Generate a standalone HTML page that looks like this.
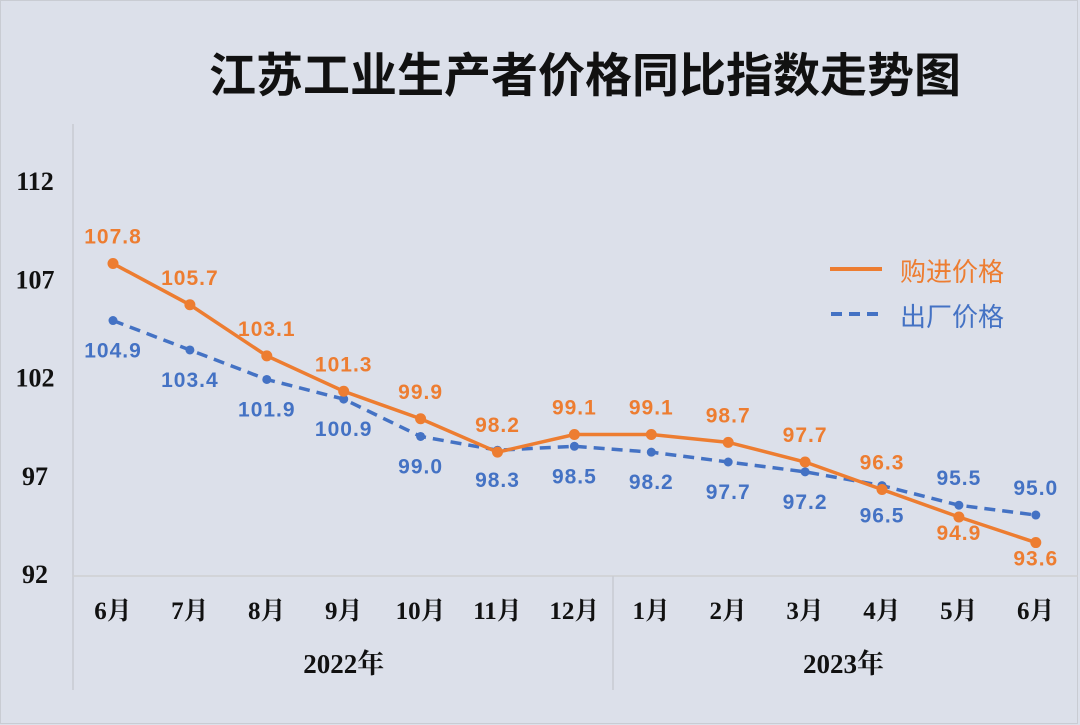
<!DOCTYPE html>
<html><head><meta charset="utf-8">
<style>
html,body{margin:0;padding:0;background:#dce0ea;}
svg{display:block;}
</style></head>
<body>
<svg id="chart" width="1080" height="725" xmlns="http://www.w3.org/2000/svg">
<rect x="0" y="0" width="1080" height="725" fill="#dce0ea"/>
<rect x="0.5" y="0.5" width="1077" height="723" fill="none" stroke="#c9ccd3" stroke-width="1"/>
<text x="585" y="92" text-anchor="middle" font-family="'Liberation Sans','Noto Sans CJK SC',sans-serif" font-size="47" font-weight="bold" fill="#111">江苏工业生产者价格同比指数走势图</text>
<g id="axes"></g>
<g id="series"></g>
<g>
  <line x1="830" y1="269" x2="882" y2="269" stroke="#ed7d31" stroke-width="4"/>
  <text x="900" y="281" font-family="'Liberation Sans','Noto Sans CJK SC',sans-serif" font-size="26" fill="#ed7d31">购进价格</text>
  <line x1="831" y1="314" x2="882" y2="314" stroke="#4472c4" stroke-width="4" stroke-dasharray="11,7"/>
  <text x="900" y="326" font-family="'Liberation Sans','Noto Sans CJK SC',sans-serif" font-size="26" fill="#4472c4">出厂价格</text>
</g>
</svg>
<script>
const categories = ["6月","7月","8月","9月","10月","11月","12月","1月","2月","3月","4月","5月","6月"];
const years = ["2022年","2023年"];
const purchase = [107.8,105.7,103.1,101.3,99.9,98.2,99.1,99.1,98.7,97.7,96.3,94.9,93.6];
const factory = [104.9,103.4,101.9,100.9,99.0,98.3,98.5,98.2,97.7,97.2,96.5,95.5,95.0];
const purchaseLabelSide = ["up","up","up","up","up","up","up","up","up","up","up","down","down"];
const factoryLabelSide = ["down","down","down","down","down","down","down","down","down","down","down","up","up"];
const yTicks = [92,97,102,107,112];

const NS="http://www.w3.org/2000/svg";
const X0=113, DX=76.9;
function xPos(i){return X0+i*DX;}
function yPos(v){return 574-(v-92)*19.65;}
function mk(tag,attrs,parent,text){const e=document.createElementNS(NS,tag);for(const k in attrs)e.setAttribute(k,attrs[k]);if(text!==undefined)e.textContent=text;parent.appendChild(e);return e;}
const axes=document.getElementById('axes'), series=document.getElementById('series');
const serif="'Liberation Serif','Noto Serif CJK SC',serif";
const sans="'Liberation Sans','Noto Sans CJK SC',sans-serif";

let e=mk('line',{x1:73,y1:124,x2:73,y2:690,stroke:'#c8cbd2','stroke-width':1.5},axes);


e=mk('line',{x1:73,y1:576,x2:1078,y2:576,stroke:'#cfcfd2','stroke-width':1.5},axes);


e=mk('line',{x1:613,y1:576,x2:613,y2:690,stroke:'#c8cbd2','stroke-width':1.5},axes);



yTicks.forEach(t=>{
  const el=mk('text',{x:35,y:yPos(t)+9,'text-anchor':'middle','font-family':serif,'font-size':26,'font-weight':'bold',fill:'#111'},axes,String(t));
  
  
});
categories.forEach((c,i)=>{
  const el=mk('text',{x:xPos(i),y:619,'text-anchor':'middle','font-family':serif,'font-size':25,'font-weight':'bold',fill:'#111'},axes,c);
  
  
});
[[0,6],[7,12]].forEach((r,k)=>{
  const el=mk('text',{x:(xPos(r[0])+xPos(r[1]))/2,y:673,'text-anchor':'middle','font-family':serif,'font-size':27,'font-weight':'bold',fill:'#111'},axes,years[k]);
  
  
});

function draw(vals,sides,color,dash,name){
  const pts=vals.map((v,i)=>xPos(i)+','+yPos(v)).join(' ');
  const attrs={points:pts,fill:'none',stroke:color,'stroke-width':3.5};
  if(dash)attrs['stroke-dasharray']='11,7';
  const pl=mk('polyline',attrs,series);
  
  
  vals.forEach((v,i)=>{
    const c=mk('circle',{cx:xPos(i),cy:yPos(v),r:dash?4.5:5.5,fill:color},series);
    
    
    const up=sides[i]==='up';
    const ty=up?yPos(v)-20:yPos(v)+(i>=11&&!dash?23:37);
    const t=mk('text',{x:xPos(i),y:ty,'text-anchor':'middle','font-family':sans,'font-size':21,'font-weight':'bold','letter-spacing':1,fill:color},series,v.toFixed(1));
    
    
  });
}
draw(factory,factoryLabelSide,'#4472c4',true,'factory-price');
draw(purchase,purchaseLabelSide,'#ed7d31',false,'purchase-price');
</script>
</body></html>
